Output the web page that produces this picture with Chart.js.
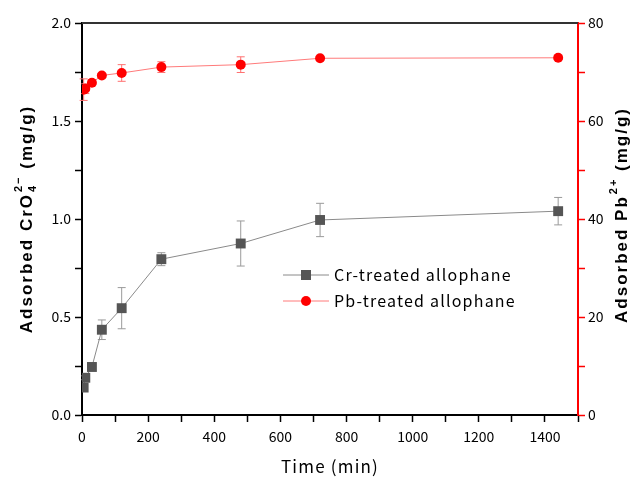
<!DOCTYPE html>
<html>
<head>
<meta charset="utf-8">
<script src="https://cdn.jsdelivr.net/npm/chart.js@4.4.1/dist/chart.umd.min.js"></script>
<style>
  html, body { margin: 0; padding: 0; background: #fff; }
</style>
</head>
<body>
<canvas id="chart" width="635" height="479"></canvas>
<script>
// time points (min)
const timeMin = [5, 10, 30, 60, 120, 240, 480, 720, 1440];
// Cr-treated allophane, adsorbed CrO4 2- (mg/g), left axis
const crValues = [0.14, 0.19, 0.245, 0.435, 0.545, 0.795, 0.875, 0.995, 1.04];
const crErrors = [0.0, 0.01, 0.02, 0.05, 0.105, 0.033, 0.115, 0.085, 0.07];
// Pb-treated allophane, adsorbed Pb2+ (mg/g), right axis
const pbValues = [66.4, 66.6, 67.8, 69.3, 69.8, 71.0, 71.5, 72.8, 72.9];
const pbErrors = [2.2, 1.0, 0.6, 0.4, 1.7, 1.1, 1.6, 0.3, 0.3];

const seriesNames = ['Cr-treated allophane', 'Pb-treated allophane'];
const xTitle = 'Time (min)';

const FONT = "'Noto Sans CJK JP', 'DejaVu Sans', sans-serif";
const TITLE_FONT = "'Liberation Sans', Arial, sans-serif";

function toPoints(xs, ys) {
  return xs.map((x, i) => ({ x, y: ys[i] }));
}

const errorBars = {
  id: 'errorBars',
  beforeDatasetsDraw(chart) {
    const ctx = chart.ctx;
    chart.data.datasets.forEach((ds, di) => {
      const meta = chart.getDatasetMeta(di);
      const ys = chart.scales[ds.yAxisID];
      ctx.save();
      ctx.strokeStyle = ds.errColor;
      ctx.lineWidth = 1;
      ds.errors.forEach((e, i) => {
        if (!e) return;
        const v = ds.data[i].y;
        const x = meta.data[i].x;
        const y1 = ys.getPixelForValue(v - e);
        const y2 = ys.getPixelForValue(v + e);
        ctx.beginPath();
        ctx.moveTo(x, y1); ctx.lineTo(x, y2);
        ctx.moveTo(x - 4, y1); ctx.lineTo(x + 4, y1);
        ctx.moveTo(x - 4, y2); ctx.lineTo(x + 4, y2);
        ctx.stroke();
      });
      ctx.restore();
    });
  }
};

function drawRich(ctx, parts, size) {
  // parts: [text, {sub, sup}, text ...]
  let total = 0;
  const widths = parts.map(p => {
    let w;
    if (typeof p === 'string') {
      ctx.font = `bold ${size}px ${TITLE_FONT}`;
      w = ctx.measureText(p).width;
    } else {
      ctx.font = `bold ${Math.round(size * 0.62)}px ${TITLE_FONT}`;
      w = Math.max(ctx.measureText(p.sub || '').width, ctx.measureText(p.sup || '').width) + 1;
    }
    total += w;
    return w;
  });
  let x = -total / 2;
  ctx.textBaseline = 'middle';
  ctx.textAlign = 'left';
  parts.forEach((p, i) => {
    if (typeof p === 'string') {
      ctx.font = `bold ${size}px ${TITLE_FONT}`;
      ctx.fillText(p, x, 0);
    } else {
      ctx.font = `bold ${Math.round(size * 0.62)}px ${TITLE_FONT}`;
      if (p.sub) ctx.fillText(p.sub, x + 1, size * 0.38);
      if (p.sup) ctx.fillText(p.sup, x + 1, -size * 0.5);
    }
    x += widths[i];
  });
}

const decorations = {
  id: 'decorations',
  afterDraw(chart) {
    const ctx = chart.ctx;
    const a = chart.chartArea;
    ctx.save();
    // top frame
    ctx.strokeStyle = '#333';
    ctx.lineWidth = 2;
    ctx.beginPath();
    ctx.moveTo(a.left, a.top);
    ctx.lineTo(a.right, a.top);
    ctx.stroke();

    ctx.fillStyle = '#000';
    ctx.letterSpacing = '2px';
    // left title
    ctx.save();
    ctx.translate(27, (a.top + a.bottom) / 2);
    ctx.rotate(-Math.PI / 2);
    drawRich(ctx, ['Adsorbed CrO', { sub: '4', sup: '2\u2212' }, ' (mg/g)'], 17);
    ctx.restore();
    // right title
    ctx.save();
    ctx.translate(622, (a.top + a.bottom) / 2 - 4);
    ctx.rotate(-Math.PI / 2);
    drawRich(ctx, ['Adsorbed Pb', { sup: '2+' }, ' (mg/g)'], 17);
    ctx.restore();

    // x title
    ctx.letterSpacing = '1.2px';
    ctx.font = `17px ${FONT}`;
    ctx.textAlign = 'center';
    ctx.textBaseline = 'middle';
    ctx.fillText(xTitle, (a.left + a.right) / 2, 467);

    // legend
    const lx = 283, ly = 275, gap = 26;
    chart.data.datasets.forEach((ds, i) => {
      const y = ly + i * gap;
      ctx.strokeStyle = ds.borderColor;
      ctx.lineWidth = 1;
      ctx.beginPath();
      ctx.moveTo(lx, y); ctx.lineTo(lx + 46, y);
      ctx.stroke();
      ctx.fillStyle = ds.pointBackgroundColor;
      if (ds.pointStyle === 'rect') {
        ctx.fillRect(lx + 23 - 5, y - 5, 10, 10);
      } else {
        ctx.beginPath();
        ctx.arc(lx + 23, y, 5, 0, Math.PI * 2);
        ctx.fill();
      }
      ctx.fillStyle = '#000';
      ctx.font = `16px ${FONT}`;
      ctx.textAlign = 'left';
      ctx.fillText(ds.label, lx + 51, y);
    });
    ctx.letterSpacing = '0px';
    ctx.restore();
  }
};

const ctx = document.getElementById('chart').getContext('2d');
new Chart(ctx, {
  type: 'line',
  data: {
    datasets: [
      {
        label: seriesNames[0],
        data: toPoints(timeMin, crValues),
        errors: crErrors,
        errColor: '#9a9a9a',
        yAxisID: 'y',
        borderColor: '#8a8a8a',
        borderWidth: 1,
        pointStyle: 'rect',
        pointRadius: 7,
        pointBackgroundColor: '#555555',
        pointBorderColor: '#555555',
        pointBorderWidth: 0,
        tension: 0
      },
      {
        label: seriesNames[1],
        data: toPoints(timeMin, pbValues),
        errors: pbErrors,
        errColor: '#ff7070',
        yAxisID: 'y1',
        borderColor: '#ff7a7a',
        borderWidth: 1,
        pointStyle: 'circle',
        pointRadius: 5,
        pointBackgroundColor: '#ff0000',
        pointBorderColor: '#ff0000',
        pointBorderWidth: 0,
        tension: 0
      }
    ]
  },
  options: {
    responsive: false,
    animation: false,
    layout: { padding: { top: 23, left: 0, right: 0, bottom: 0 } },
    plugins: { legend: { display: false }, tooltip: { enabled: false } },
    scales: {
      x: {
        type: 'linear',
        min: 0, max: 1500,
        afterFit: s => { s.height = 64; },
        border: { display: true, color: '#000', width: 2 },
        grid: { drawOnChartArea: false, tickLength: 7, color: '#000', tickWidth: 1.5 },
        ticks: {
          stepSize: 100, autoSkip: false, maxRotation: 0, padding: 6,
          color: '#000', font: { family: FONT, size: 14 },
          callback: v => (v % 200 === 0 && v <= 1400 ? String(v) : '')
        }
      },
      y: {
        position: 'left',
        min: 0, max: 2.0,
        afterFit: s => { s.width = 82; },
        border: { display: true, color: '#000', width: 2 },
        grid: { drawOnChartArea: false, tickLength: 7, color: '#000', tickWidth: 1.5 },
        ticks: {
          stepSize: 0.25, autoSkip: false, padding: 4,
          color: '#000', font: { family: FONT, size: 14 },
          callback: v => (Math.abs(v * 2 - Math.round(v * 2)) < 1e-6 ? v.toFixed(1) : '')
        }
      },
      y1: {
        position: 'right',
        min: 0, max: 80,
        afterFit: s => { s.width = 57; },
        border: { display: true, color: '#ff0000', width: 2 },
        grid: { drawOnChartArea: false, tickLength: 7, color: '#ff0000', tickWidth: 1.5 },
        ticks: {
          stepSize: 10, autoSkip: false, padding: 3,
          color: '#000', font: { family: FONT, size: 14 },
          callback: v => (v % 20 === 0 ? String(v) : '')
        }
      }
    }
  },
  plugins: [errorBars, decorations]
});
</script>
</body>
</html>
